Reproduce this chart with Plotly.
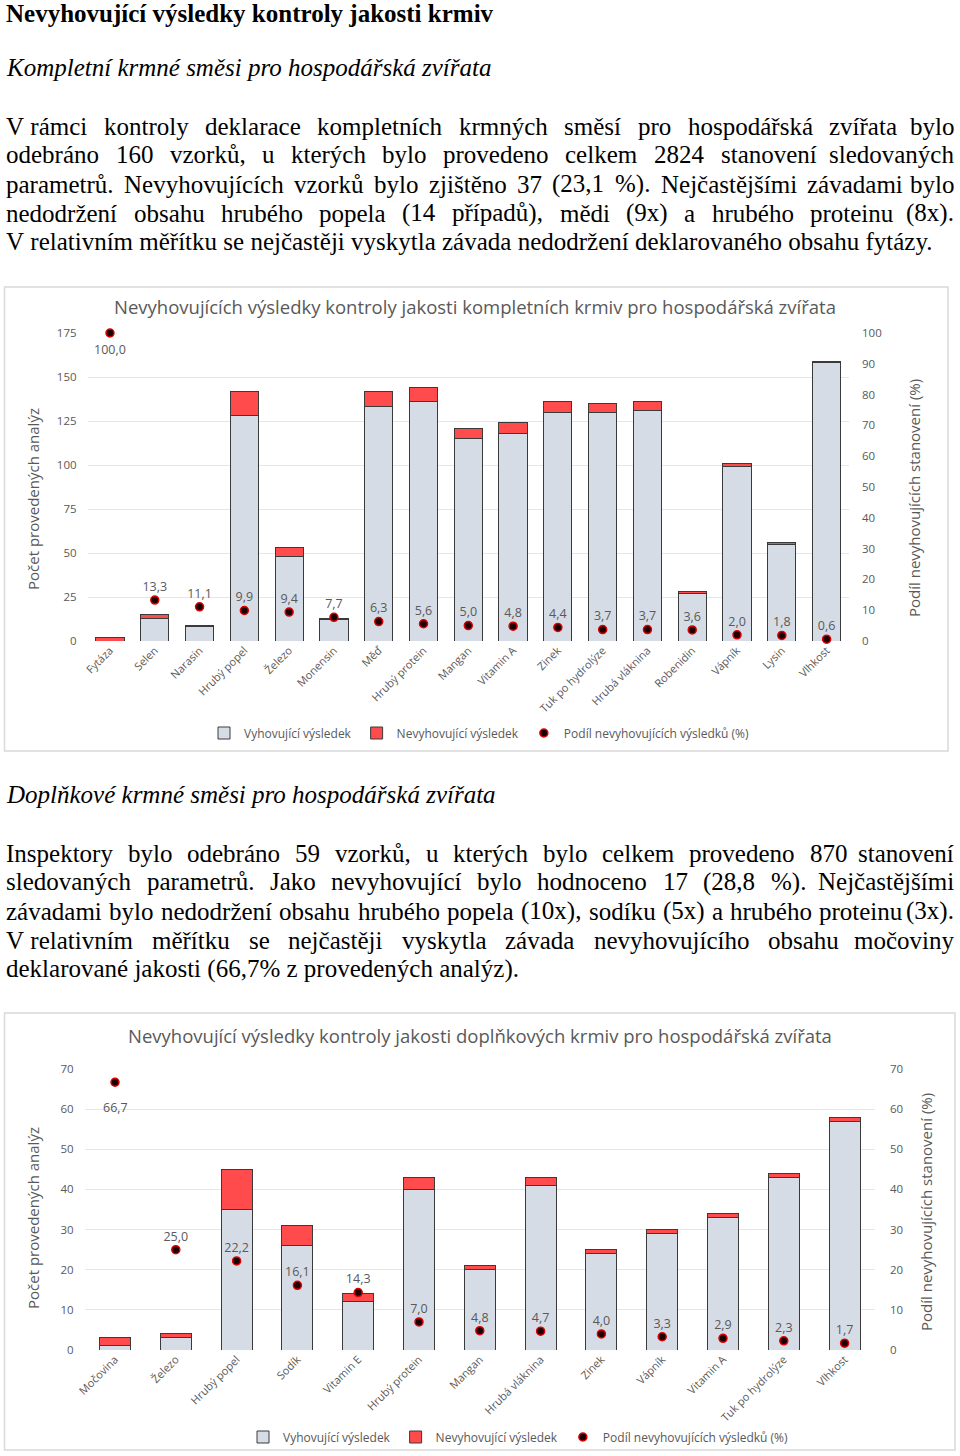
import unicodedata
import plotly.graph_objects as go

# ---------------- data ----------------
cat1 = ["Fytáza", "Selen", "Narasin", "Hrubý popel", "Železo", "Monensin", "Měď",
        "Hrubý protein", "Mangan", "Vitamin A", "Zinek", "Tuk po hydrolýze",
        "Hrubá vláknina", "Robenidin", "Vápník", "Lysin", "Vlhkost"]
ok1 = [0, 13, 8, 128, 48, 12, 133, 136, 115, 118, 130, 130, 131, 27, 99, 55, 158]
bad1 = [2, 2, 1, 14, 5, 1, 9, 8, 6, 6, 6, 5, 5, 1, 2, 1, 1]
pct1 = [100.0, 13.3, 11.1, 9.9, 9.4, 7.7, 6.3, 5.6, 5.0, 4.8, 4.4, 3.7, 3.7, 3.6, 2.0, 1.8, 0.6]

cat2 = ["Močovina", "Železo", "Hrubý popel", "Sodík", "Vitamin E", "Hrubý protein",
        "Mangan", "Hrubá vláknina", "Zinek", "Vápník", "Vitamin A", "Tuk po hydrolýze", "Vlhkost"]
ok2 = [1, 3, 35, 26, 12, 40, 20, 41, 24, 29, 33, 43, 57]
bad2 = [2, 1, 10, 5, 2, 3, 1, 2, 1, 1, 1, 1, 1]
pct2 = [66.7, 25.0, 22.2, 16.1, 14.3, 7.0, 4.8, 4.7, 4.0, 3.3, 2.9, 2.3, 1.7]

left_ticks1 = [0, 25, 50, 75, 100, 125, 150, 175]
right_ticks1 = [0, 10, 20, 30, 40, 50, 60, 70, 80, 90, 100]
ticks2 = [0, 10, 20, 30, 40, 50, 60, 70]

title_main = "Nevyhovující výsledky kontroly jakosti krmiv"
sub1 = "Kompletní krmné směsi pro hospodářská zvířata"
par1 = [
    "V\u00a0rámci kontroly deklarace kompletních krmných směsí pro hospodářská zvířata bylo",
    "odebráno 160 vzorků, u kterých bylo provedeno celkem 2824 stanovení sledovaných",
    "parametrů. Nevyhovujících vzorků bylo zjištěno 37 (23,1 %). Nejčastějšími závadami bylo",
    "nedodržení obsahu hrubého popela (14 případů), mědi (9x) a hrubého proteinu (8x).",
    "V\u00a0relativním měřítku se nejčastěji vyskytla závada nedodržení deklarovaného obsahu fytázy.",
]
sub2 = "Doplňkové krmné směsi pro hospodářská zvířata"
par2 = [
    "Inspektory bylo odebráno 59 vzorků, u kterých bylo celkem provedeno 870 stanovení",
    "sledovaných parametrů. Jako nevyhovující bylo hodnoceno 17 (28,8 %). Nejčastějšími",
    "závadami bylo nedodržení obsahu hrubého popela (10x), sodíku (5x) a hrubého proteinu (3x).",
    "V\u00a0relativním měřítku se nejčastěji vyskytla závada nevyhovujícího obsahu močoviny",
    "deklarované jakosti (66,7% z provedených analýz).",
]
chart1_title = "Nevyhovujících výsledky kontroly jakosti kompletních krmiv pro hospodářská zvířata"
chart2_title = "Nevyhovující výsledky kontroly jakosti doplňkových krmiv pro hospodářská zvířata"
ytitle_left = "Počet provedených analýz"
ytitle_right = "Podíl nevyhovujících stanovení (%)"
leg_ok = "Vyhovující výsledek"
leg_bad = "Nevyhovující výsledek"
leg_pct = "Podíl nevyhovujících výsledků (%)"

# ---------------- helpers ----------------
W, H = 960, 1456


def py(p):
    return 1 - p / H


def px(p):
    return p / W


TIMES = {' ': 250, '\u00a0': 250, '%': 833, '(': 333, ')': 333, ',': 250, '.': 250, ':': 278,
         'A': 722, 'B': 667, 'C': 667, 'D': 722, 'E': 611, 'F': 556, 'G': 722, 'H': 722, 'I': 333,
         'J': 389, 'K': 722, 'L': 611, 'M': 889, 'N': 722, 'O': 722, 'P': 556, 'R': 667, 'S': 556,
         'T': 611, 'U': 722, 'V': 722, 'Z': 611,
         'a': 444, 'b': 500, 'c': 444, 'd': 500, 'e': 444, 'f': 333, 'g': 500, 'h': 500, 'i': 278,
         'j': 278, 'k': 500, 'l': 278, 'm': 778, 'n': 500, 'o': 500, 'p': 500, 'q': 500, 'r': 333,
         's': 389, 't': 278, 'u': 500, 'v': 500, 'w': 722, 'x': 500, 'y': 500, 'z': 444}


def text_w(s, size):
    tot = 0
    for ch in s:
        if ch.isdigit():
            tot += 500
            continue
        base = unicodedata.normalize('NFD', ch)[0]
        tot += TIMES.get(base, 500)
    return tot * size / 1000.0


SERIF = "Liberation Serif"
FS = 25
LEFT, RIGHT = 4, 956
annotations = []


def add_text(txt, x, ypix, size=FS, anchor='left'):
    annotations.append(dict(text=txt, x=px(x), y=py(ypix), xref='paper', yref='paper',
                            xanchor=anchor, yanchor='middle', showarrow=False,
                            font=dict(family=SERIF, size=size, color='black')))


def add_line(line, ypix, justify=True):
    if not justify:
        add_text(line, LEFT, ypix)
        return
    words = line.split(' ')
    widths = [text_w(w, FS) for w in words]
    gap = (RIGHT - LEFT - sum(widths)) / (len(words) - 1)
    x = LEFT
    for i, (w, wd) in enumerate(zip(words, widths)):
        if i == len(words) - 1:
            add_text(w, RIGHT, ypix, anchor='right')
        else:
            add_text(w, x, ypix)
        x += wd + gap


add_text("<b>" + title_main + "</b>", LEFT, 14)
add_text("<i>" + sub1 + "</i>", LEFT, 67)
for i, ln in enumerate(par1):
    add_line(ln, 126 + 29 * i, justify=(i < len(par1) - 1))
add_text("<i>" + sub2 + "</i>", LEFT, 795)
for i, ln in enumerate(par2):
    add_line(ln, 853 + 29 * i, justify=(i < len(par2) - 1))

SANS = "Open Sans"
GREY = "#595959"


def fmt(v):
    return f"{v:.1f}".replace('.', ',')


def ann(text, x, y, size, angle=0):
    annotations.append(dict(text=text, x=px(x), y=py(y), xref='paper', yref='paper',
                            xanchor='center', yanchor='middle', showarrow=False, textangle=angle,
                            font=dict(family=SANS, size=size, color=GREY)))


ann(chart1_title, 475, 306, 18.5)
ann(chart2_title, 480, 1035, 18.5)
ann(ytitle_left, 33, 499, 15, -90)
ann(ytitle_left, 33, 1218, 15, -90)
ann(ytitle_right, 914, 498, 15, -90)
ann(ytitle_right, 926, 1212, 15, -90)

GRAYFILL = "#d6dce5"
REDFILL = "#ff4b4b"
OUTLINE = "#3a3a3a"
MARK = dict(color='#1a0000', size=8, line=dict(color='#e00000', width=1.5))
LBLFONT = dict(family=SANS, size=12.5, color=GREY)

# labels of the first (top) point sit below the marker
annotations.append(dict(text=fmt(pct1[0]), x=cat1[0], y=pct1[0], xref='x', yref='y2',
                        yshift=-17, showarrow=False, font=LBLFONT))
annotations.append(dict(text=fmt(pct2[0]), x=cat2[0], y=pct2[0], xref='x2', yref='y4',
                        yshift=-25, showarrow=False, font=LBLFONT))

fig = go.Figure()

# chart 1
fig.add_trace(go.Bar(x=cat1, y=ok1, name=leg_ok, width=0.63,
                     marker=dict(color=GRAYFILL, line=dict(color=OUTLINE, width=1)),
                     xaxis='x', yaxis='y', legend='legend'))
fig.add_trace(go.Bar(x=cat1, y=bad1, name=leg_bad, width=0.63,
                     marker=dict(color=REDFILL, line=dict(color=OUTLINE, width=1)),
                     xaxis='x', yaxis='y', legend='legend'))
fig.add_trace(go.Scatter(x=cat1, y=pct1, name=leg_pct, mode='markers+text',
                         text=[''] + [fmt(v) for v in pct1[1:]],
                         textposition='top center',
                         textfont=LBLFONT, marker=MARK,
                         xaxis='x', yaxis='y2', legend='legend', cliponaxis=False))

# chart 2
fig.add_trace(go.Bar(x=cat2, y=ok2, name=leg_ok, width=0.51,
                     marker=dict(color=GRAYFILL, line=dict(color=OUTLINE, width=1)),
                     xaxis='x2', yaxis='y3', legend='legend2'))
fig.add_trace(go.Bar(x=cat2, y=bad2, name=leg_bad, width=0.51,
                     marker=dict(color=REDFILL, line=dict(color=OUTLINE, width=1)),
                     xaxis='x2', yaxis='y3', legend='legend2'))
fig.add_trace(go.Scatter(x=cat2, y=pct2, name=leg_pct, mode='markers+text',
                         text=[''] + [fmt(v) for v in pct2[1:]],
                         textposition='top center',
                         textfont=LBLFONT, marker=MARK,
                         xaxis='x2', yaxis='y4', legend='legend2', cliponaxis=False))

tickfont = dict(family=SANS, size=11.5, color=GREY)
catfont = dict(family=SANS, size=11, color=GREY)
GRID = "#e6e6e6"
legfont = dict(family=SANS, size=12, color=GREY)

fig.update_layout(
    width=W, height=H, margin=dict(l=0, r=0, t=0, b=0, autoexpand=False),
    paper_bgcolor='white', plot_bgcolor='white',
    barmode='stack',
    xaxis=dict(domain=[px(87.6), px(849)], anchor='y', type='category', tickangle=-45,
               range=[-0.5, len(cat1) - 0.5], autorange=False,
               tickfont=catfont, showgrid=False, showline=False, ticks=''),
    yaxis=dict(domain=[py(641), py(333)], anchor='x', range=[0, 175], tickvals=left_ticks1,
               showgrid=True, gridcolor=GRID, zeroline=False, tickfont=tickfont,
               ticklabelstandoff=10),
    yaxis2=dict(overlaying='y', side='right', anchor='x', range=[0, 100], tickvals=right_ticks1,
                showgrid=False, zeroline=False, tickfont=tickfont, ticklabelstandoff=12),
    xaxis2=dict(domain=[px(84.6), px(875)], anchor='y3', type='category', tickangle=-45,
                range=[-0.5, len(cat2) - 0.5], autorange=False,
                tickfont=catfont, showgrid=False, showline=False, ticks=''),
    yaxis3=dict(domain=[py(1350), py(1069)], anchor='x2', range=[0, 70], tickvals=ticks2,
                showgrid=True, gridcolor=GRID, zeroline=False, tickfont=tickfont,
                ticklabelstandoff=10),
    yaxis4=dict(overlaying='y3', side='right', anchor='x2', range=[0, 70], tickvals=ticks2,
                showgrid=False, zeroline=False, tickfont=tickfont, ticklabelstandoff=14),
    legend=dict(orientation='h', x=px(479), xanchor='center', y=py(733), yanchor='middle',
                traceorder='normal', itemwidth=30,
                font=legfont, bgcolor='rgba(0,0,0,0)'),
    legend2=dict(orientation='h', x=px(518), xanchor='center', y=py(1437), yanchor='middle',
                 traceorder='normal', itemwidth=30,
                 font=legfont, bgcolor='rgba(0,0,0,0)'),
    annotations=annotations,
    shapes=[
        dict(type='rect', xref='paper', yref='paper', x0=px(4.5), x1=px(948), y0=py(751), y1=py(287),
             line=dict(color='#d9d9d9', width=1.5), fillcolor='rgba(0,0,0,0)', layer='below'),
        dict(type='rect', xref='paper', yref='paper', x0=px(4.5), x1=px(955), y0=py(1450), y1=py(1013),
             line=dict(color='#d9d9d9', width=1.5), fillcolor='rgba(0,0,0,0)', layer='below'),
    ],
    showlegend=True,
)

fig.write_html("out.html", config={'displayModeBar': False},
               post_script="document.body.style.margin='0';document.body.style.overflow='hidden';")
